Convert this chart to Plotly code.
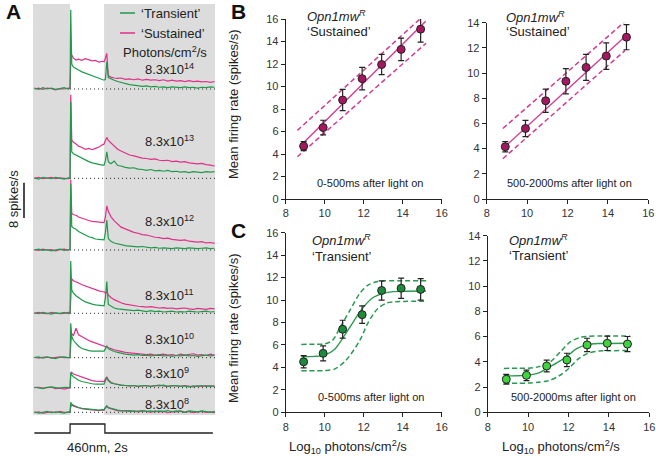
import plotly.graph_objects as go

W, H = 656, 456
def px(x): return x / W
def py(y): return 1 - y / H

FONT = "Arial, Liberation Sans, sans-serif"
GREEN = "#1f9a4b"
PINK = "#e0308a"

# ---------------- Panel A data (spikes/s above baseline) ----------------
T_PSTH = [-2.1, -1.85, -1.6, -1.35, -1.1, -0.85, -0.6, -0.35, -0.1,
          0.0, 0.04, 0.1, 0.2, 0.35, 0.5, 0.7, 0.9, 1.1, 1.3, 1.5, 1.7, 1.9,
          2.0, 2.08, 2.16, 2.25, 2.4, 2.6, 2.8, 3.0, 3.25, 3.5, 3.75, 4.0, 4.25, 4.5,
          4.75, 5.0, 5.25, 5.5, 5.75, 6.0, 6.25, 6.5, 6.75, 7.0, 7.25, 7.5, 7.75, 8.0, 8.25, 8.5]

TRANSIENT_E14 = [0.2, -0.1, 0.3, 0.0, 0.2, -0.1, 0.1, 0.3, 0.0,
                 0.2, 18.0, 5.6, 5.0, 4.6, 4.3, 3.9, 3.6, 3.3, 2.9, 2.7, 2.4, 2.1,
                 2.0, 2.2, 6.2, 2.6, 2.3, 2.0, 1.7, 1.5, 1.2, 1.0, 0.9, 0.8, 0.6, 0.7, 0.5,
                 0.6, 0.4, 0.5, 0.3, 0.5, 0.4, 0.3, 0.5, 0.3, 0.4, 0.2, 0.4, 0.3, 0.5, 0.4]
SUSTAINED_E14 = [0.0, 0.2, -0.1, 0.2, 0.1, -0.2, 0.1, 0.0, 0.2,
                 0.1, 6.0, 7.7, 7.0, 6.6, 6.8, 6.5, 6.9, 6.6, 6.4, 6.5, 6.1, 6.3,
                 6.2, 7.0, 8.1, 3.0, 2.7, 2.5, 2.4, 2.5, 2.2, 2.3, 2.1, 2.3, 2.0, 2.2, 2.0,
                 2.1, 1.9, 2.1, 1.8, 2.0, 1.8, 1.9, 1.7, 1.9, 1.7, 1.8, 1.6, 1.7, 1.5, 1.7]
TRANSIENT_E13 = [0.1, -0.2, 0.2, 0.0, -0.1, 0.2, 0.0, -0.2, 0.1,
                 0.0, 17.4, 6.0, 5.6, 5.3, 4.9, 4.5, 4.1, 3.8, 3.5, 3.3, 3.1, 3.0,
                 3.0, 4.0, 6.0, 3.8, 3.3, 3.9, 2.9, 2.8, 2.5, 2.3, 2.4, 2.1, 2.0, 1.8, 2.0,
                 1.7, 1.8, 1.6, 1.8, 1.5, 1.6, 1.4, 1.5, 1.3, 1.5, 1.4, 1.3, 1.5, 1.4, 1.5]
SUSTAINED_E13 = [0.0, 0.2, -0.1, 0.1, 0.2, -0.1, 0.1, 0.0, -0.1,
                 0.1, 19.0, 8.7, 8.2, 7.8, 7.3, 7.0, 6.6, 6.8, 6.5, 6.8, 7.1, 7.6,
                 7.8, 8.6, 9.3, 8.6, 8.0, 7.2, 6.6, 6.2, 5.8, 5.3, 5.1, 4.8, 4.6, 4.5, 4.3,
                 4.4, 4.1, 4.0, 4.1, 3.8, 3.9, 3.7, 3.8, 3.5, 3.4, 3.3, 3.4, 3.1, 3.0, 2.8]
TRANSIENT_E12 = [0.0, 0.2, -0.1, 0.1, -0.2, 0.0, 0.2, -0.1, 0.0,
                 0.1, 15.0, 5.3, 5.0, 4.7, 4.2, 3.8, 3.4, 3.0, 2.8, 2.5, 2.4, 2.3,
                 2.3, 4.0, 6.8, 2.6, 2.0, 1.6, 1.4, 1.2, 1.0, 0.9, 0.8, 0.7, 0.8, 0.6, 0.5,
                 0.6, 0.4, 0.5, 0.4, 0.3, 0.5, 0.4, 0.3, 0.5, 0.4, 0.3, 0.4, 0.5, 0.3, 0.4]
SUSTAINED_E12 = [0.1, -0.1, 0.2, 0.0, 0.1, -0.2, 0.1, 0.2, 0.0,
                 0.2, 16.0, 8.3, 8.0, 7.9, 7.5, 7.2, 6.9, 6.7, 6.5, 6.4, 6.3, 6.2,
                 6.2, 7.5, 10.0, 8.8, 7.6, 6.6, 5.8, 5.2, 4.8, 4.4, 4.0, 3.8, 3.5, 3.4, 3.1,
                 2.9, 2.8, 2.6, 2.7, 2.4, 2.3, 2.2, 2.3, 2.0, 1.9, 1.8, 1.9, 1.6, 1.7, 1.5]
TRANSIENT_E11 = [0.1, -0.1, 0.2, 0.0, -0.2, 0.1, 0.0, 0.2, -0.1,
                 0.0, 11.9, 5.3, 4.6, 4.0, 3.5, 3.0, 2.6, 2.3, 2.1, 1.9, 1.8, 1.7,
                 1.7, 3.5, 7.2, 2.0, 1.6, 1.2, 1.0, 0.9, 0.8, 0.7, 0.6, 0.7, 0.5, 0.4, 0.6,
                 0.4, 0.5, 0.3, 0.4, 0.5, 0.3, 0.4, 0.3, 0.5, 0.4, 0.3, 0.4, 0.5, 0.3, 0.4]
SUSTAINED_E11 = [0.0, 0.2, 0.0, -0.1, 0.2, 0.1, -0.1, 0.0, 0.2,
                 0.1, 4.0, 7.8, 7.4, 7.2, 6.9, 6.5, 6.2, 6.0, 5.7, 5.4, 5.1, 4.9,
                 4.9, 4.6, 4.8, 4.2, 3.6, 3.1, 2.7, 2.4, 2.1, 1.9, 1.7, 1.6, 1.5, 1.4, 1.5,
                 1.3, 1.2, 1.3, 1.1, 1.2, 1.0, 1.1, 1.2, 1.0, 0.9, 1.1, 1.0, 0.9, 1.1, 1.0]
TRANSIENT_E10 = [0.0, 0.2, -0.1, 0.1, 0.0, -0.2, 0.1, 0.2, 0.0,
                 0.1, 7.8, 4.8, 3.9, 3.2, 2.6, 2.1, 1.8, 1.6, 1.5, 1.5, 1.4, 1.5,
                 1.5, 2.0, 2.7, 2.0, 1.7, 1.4, 1.2, 1.0, 0.8, 0.7, 0.6, 0.7, 0.5, 0.6, 0.4,
                 0.5, 0.6, 0.4, 0.5, 0.3, 0.5, 0.4, 0.6, 0.4, 0.5, 0.3, 0.4, 0.6, 0.4, 0.5]
SUSTAINED_E10 = [0.1, -0.1, 0.1, 0.2, -0.1, 0.0, 0.2, 0.0, 0.1,
                 0.0, 3.0, 5.5, 5.0, 6.7, 5.2, 4.7, 4.3, 3.9, 3.6, 3.3, 3.0, 2.7,
                 2.6, 2.5, 2.4, 2.2, 2.0, 1.8, 1.6, 1.4, 1.2, 1.1, 1.0, 0.9, 0.8, 0.7, 0.8,
                 0.6, 0.7, 0.8, 0.6, 0.7, 0.5, 0.8, 0.6, 0.7, 0.9, 0.6, 0.7, 0.5, 0.8, 0.6]
TRANSIENT_E9 = [0.1, 0.0, -0.2, 0.1, 0.2, 0.0, -0.1, 0.1, 0.0,
                0.0, 3.5, 2.9, 2.5, 2.0, 1.7, 1.4, 1.2, 1.0, 0.9, 0.8, 0.8, 0.8,
                0.8, 1.5, 2.3, 1.6, 1.1, 0.9, 0.7, 0.6, 0.5, 0.4, 0.5, 0.3, 0.5, 0.4, 0.3,
                0.5, 0.4, 0.6, 0.3, 0.4, 0.5, 0.3, 0.4, 0.2, 0.4, 0.3, 0.5, 0.3, 0.4, 0.3]
SUSTAINED_E9 = [0.0, 0.1, -0.1, 0.0, 0.1, -0.2, -0.1, -0.3, -0.2,
                0.0, 3.0, 3.5, 3.1, 2.9, 2.6, 2.3, 2.0, 1.8, 1.6, 1.5, 1.5, 1.4,
                1.4, 2.0, 2.5, 1.8, 1.2, 0.9, 0.7, 0.6, 0.5, 0.4, 0.5, 0.3, 0.4, 0.5, 0.3,
                0.4, 0.6, 0.4, 0.3, 0.5, 0.4, 0.3, 0.5, 0.4, 0.2, 0.4, 0.3, 0.5, 0.3, 0.4]
TRANSIENT_E8 = [0.1, -0.2, 0.0, 0.2, -0.1, 0.1, 0.0, -0.2, 0.1,
                0.0, 2.3, 1.9, 1.6, 1.3, 1.1, 0.9, 0.8, 0.7, 0.6, 0.6, 0.5, 0.6,
                0.6, 1.1, 1.5, 1.1, 0.9, 0.7, 0.5, 0.4, 0.3, 0.4, 0.2, 0.3, 0.4, 0.2, 0.3,
                0.1, 0.3, 0.2, 0.4, 0.1, 0.3, 0.2, 0.0, 0.3, 0.2, 0.1, 0.3, 0.2, 0.0, 0.2]
SUSTAINED_E8 = [-0.1, 0.1, -0.2, 0.0, 0.1, -0.1, 0.2, 0.0, -0.1,
                0.0, 1.2, 1.7, 1.4, 1.2, 1.0, 0.8, 0.7, 0.6, 0.5, 0.5, 0.4, 0.5,
                0.5, 1.0, 1.3, 1.0, 0.8, 0.6, 0.4, 0.3, 0.4, 0.2, 0.3, 0.1, 0.3, 0.2, 0.0,
                0.3, 0.1, 0.2, -0.1, 0.2, 0.1, 0.3, 0.0, 0.2, -0.1, 0.1, 0.2, 0.0, 0.1, -0.1]

INTENSITY_EXP = ["14", "13", "12", "11", "10", "9", "8"]
STIM_T = [-2.1, 0.0, 0.0, 2.05, 2.05, 8.4]
STIM_LEVEL = [0, 0, 1, 1, 0, 0]

# ---------------- Panels B / C data ----------------
LOG_INTENSITY = [8.92, 9.92, 10.92, 11.92, 12.92, 13.92, 14.92]
SUST_EARLY_MEAN = [4.7, 6.35, 8.8, 10.7, 11.95, 13.3, 15.1]
SUST_EARLY_SEM = [0.4, 0.65, 0.95, 1.0, 0.9, 1.0, 1.15]
SUST_LATE_MEAN = [4.15, 5.6, 7.8, 9.35, 10.45, 11.35, 12.85]
SUST_LATE_SEM = [0.4, 0.65, 0.92, 1.0, 1.03, 1.05, 1.0]
TRANS_EARLY_MEAN = [4.5, 5.25, 7.4, 8.7, 10.85, 11.05, 10.95]
TRANS_EARLY_SEM = [0.55, 0.67, 0.8, 0.78, 0.86, 0.9, 0.96]
TRANS_LATE_MEAN = [2.62, 2.93, 3.67, 4.15, 5.34, 5.47, 5.41]
TRANS_LATE_SEM = [0.38, 0.42, 0.46, 0.53, 0.53, 0.57, 0.6]

# fitted lines
FIT_SE_X = [8.8, 15.18]; FIT_SE_Y = [4.8, 15.8]
FIT_SE_BAND_X = [8.6, 15.2]; FIT_SE_UP = [6.1, 16.5]; FIT_SE_LO = [3.75, 13.85]
FIT_SL_X = [8.8, 14.85]; FIT_SL_Y = [4.0, 12.9]
FIT_SL_BAND_X = [8.8, 14.85]; FIT_SL_UP = [5.6, 14.1]; FIT_SL_LO = [3.2, 11.8]

FIT_TE_X = [8.8, 9.5, 10.0, 10.5, 11.0, 11.5, 12.0, 12.5, 13.0, 13.5, 14.0, 15.2]
FIT_TE_Y = [4.95, 4.98, 5.1, 5.6, 6.8, 8.15, 9.4, 10.25, 10.6, 10.75, 10.78, 10.8]
FIT_TE_UP_X = [8.8, 9.5, 10.0, 10.4, 10.8, 11.3, 11.8, 12.2, 12.6, 13.0, 14.0, 15.2]
FIT_TE_UP = [6.05, 6.06, 6.1, 6.4, 7.6, 9.1, 10.6, 11.3, 11.6, 11.7, 11.72, 11.72]
FIT_TE_LO_X = [8.8, 9.5, 10.0, 10.5, 11.1, 11.8, 12.2, 12.7, 13.2, 13.6, 14.0, 15.2]
FIT_TE_LO = [3.7, 3.7, 3.72, 3.85, 4.65, 6.4, 7.9, 9.2, 9.75, 9.85, 9.88, 9.9]

FIT_TL_X = [8.8, 9.5, 10.0, 10.5, 10.9, 11.4, 11.9, 12.4, 12.9, 13.5, 14.0, 15.05]
FIT_TL_Y = [2.88, 2.9, 2.95, 3.1, 3.45, 3.9, 4.4, 5.05, 5.35, 5.45, 5.46, 5.47]
FIT_TL_UP_X = [8.8, 9.5, 10.0, 10.5, 11.1, 11.6, 12.1, 12.6, 13.0, 13.5, 14.0, 15.05]
FIT_TL_UP = [3.48, 3.49, 3.5, 3.6, 4.0, 4.8, 5.6, 5.95, 6.03, 6.05, 6.05, 6.05]
FIT_TL_LO_X = [8.8, 9.5, 10.0, 10.5, 11.0, 11.5, 12.0, 12.5, 13.0, 13.5, 14.0, 15.05]
FIT_TL_LO = [2.3, 2.3, 2.32, 2.38, 2.5, 2.85, 3.45, 4.25, 4.7, 4.85, 4.88, 4.9]

# ---------------- layout geometry ----------------
A_PX_PER_UNIT = 4.4
A_TOP, A_BOT = 4, 440
A_X0, A_X1 = 33, 215
A_T0 = -2.18
A_T1 = A_T0 + (A_X1 - A_X0) / 17.0
def ay(ypix): return (A_BOT - ypix) / A_PX_PER_UNIT

ROW_BASE_PX = [89, 178.3, 250, 313.3, 357.7, 387.7, 412.3]
ROW_LABEL_PX = [69, 141, 221, 295, 339, 373, 404]

fig = go.Figure()
shapes = []
annotations = []

def ann(text, x, y, size=13, xanchor="center", angle=0, color="#222"):
    annotations.append(dict(text=text, x=px(x), y=py(y), xref="paper", yref="paper",
                            xanchor=xanchor, yanchor="middle", textangle=angle,
                            showarrow=False, font=dict(size=size, color=color, family=FONT)))

# Panel A traces
rows = [(TRANSIENT_E14, SUSTAINED_E14), (TRANSIENT_E13, SUSTAINED_E13),
        (TRANSIENT_E12, SUSTAINED_E12), (TRANSIENT_E11, SUSTAINED_E11),
        (TRANSIENT_E10, SUSTAINED_E10), (TRANSIENT_E9, SUSTAINED_E9),
        (TRANSIENT_E8, SUSTAINED_E8)]
for (tr, su), base_px in zip(rows, ROW_BASE_PX):
    off = ay(base_px)
    fig.add_trace(go.Scatter(x=T_PSTH, y=[v + off for v in su], mode="lines",
                             line=dict(color=PINK, width=1.2), xaxis="x5", yaxis="y5",
                             showlegend=False, hoverinfo="skip"))
    fig.add_trace(go.Scatter(x=T_PSTH, y=[v + off for v in tr], mode="lines",
                             line=dict(color=GREEN, width=1.2), xaxis="x5", yaxis="y5",
                             showlegend=False, hoverinfo="skip"))
    shapes.append(dict(type="line", xref="x5", yref="y5", x0=0, x1=A_T1, y0=off, y1=off,
                       line=dict(color="#222", width=1, dash="1px,3px"), layer="below"))

stim_base = ay(433); stim_top = ay(424)
fig.add_trace(go.Scatter(x=STIM_T, y=[stim_base + l * (stim_top - stim_base) for l in STIM_LEVEL],
                         mode="lines", line=dict(color="#222", width=1.3),
                         xaxis="x5", yaxis="y5", showlegend=False, hoverinfo="skip"))

for (t0, t1) in [(A_T0, 0.0), (2.0, A_T1)]:
    shapes.insert(0, dict(type="rect", xref="x5", yref="y5", x0=t0, x1=t1,
                          y0=ay(415), y1=ay(A_TOP), fillcolor="#dcdcdc",
                          line=dict(width=0), layer="below"))

# scale bar
shapes.append(dict(type="line", xref="paper", yref="y5", x0=px(24), x1=px(24),
                   y0=ay(218), y1=ay(218) + 8, line=dict(color="#111", width=1.5)))
ann("8 spikes/s", 13, 199, angle=-90)
ann("460nm, 2s", 97, 447)

# legend of A
for yy, col, txt in [(13, GREEN, "‘Transient’"), (33, PINK, "‘Sustained’")]:
    shapes.append(dict(type="line", xref="paper", yref="paper", x0=px(120), x1=px(135),
                       y0=py(yy), y1=py(yy), line=dict(color=col, width=1.5)))
    ann(txt, 139, yy, xanchor="left")
ann("Photons/cm<sup>2</sup>/s", 165, 52)
for e, ly in zip(INTENSITY_EXP, ROW_LABEL_PX):
    ann("8.3x10<sup>%s</sup>" % e, 143, ly, xanchor="left")

# ---------------- Panels B, C ----------------
panels = [
    ("x", "y", SUST_EARLY_MEAN, SUST_EARLY_SEM, "#a3185f", "#d33c92"),
    ("x2", "y2", SUST_LATE_MEAN, SUST_LATE_SEM, "#a3185f", "#d33c92"),
    ("x3", "y3", TRANS_EARLY_MEAN, TRANS_EARLY_SEM, "#1d8a3c", "#2a9a50"),
    ("x4", "y4", TRANS_LATE_MEAN, TRANS_LATE_SEM, "#3fd33f", "#2a9a50"),
]
fits = [
    [(FIT_SE_X, FIT_SE_Y, "solid"), (FIT_SE_BAND_X, FIT_SE_UP, "dash"), (FIT_SE_BAND_X, FIT_SE_LO, "dash")],
    [(FIT_SL_X, FIT_SL_Y, "solid"), (FIT_SL_BAND_X, FIT_SL_UP, "dash"), (FIT_SL_BAND_X, FIT_SL_LO, "dash")],
    [(FIT_TE_X, FIT_TE_Y, "solid"), (FIT_TE_UP_X, FIT_TE_UP, "dash"), (FIT_TE_LO_X, FIT_TE_LO, "dash")],
    [(FIT_TL_X, FIT_TL_Y, "solid"), (FIT_TL_UP_X, FIT_TL_UP, "dash"), (FIT_TL_LO_X, FIT_TL_LO, "dash")],
]
for (xa, ya, mean, sem, mcol, lcol), fl in zip(panels, fits):
    for fx, fy, d in fl:
        fig.add_trace(go.Scatter(x=fx, y=fy, mode="lines", xaxis=xa, yaxis=ya,
                                 line=dict(color=lcol, width=1.4 if d == "solid" else 1.5,
                                           dash="solid" if d == "solid" else "5px,3px",
                                           shape="spline", smoothing=0.8),
                                 showlegend=False, hoverinfo="skip"))
    fig.add_trace(go.Scatter(x=LOG_INTENSITY, y=mean, mode="markers", xaxis=xa, yaxis=ya,
                             marker=dict(size=8, color=mcol, line=dict(color="#222", width=1)),
                             error_y=dict(type="data", array=sem, visible=True, color="#222",
                                          thickness=1.2, width=3),
                             showlegend=False, hoverinfo="skip"))

def ax_common():
    return dict(showline=True, linecolor="#222", linewidth=1, ticks="outside", ticklen=4,
                tickwidth=1, tickcolor="#222", showgrid=False, zeroline=False, automargin=False,
                tickfont=dict(size=11, color="#333", family=FONT))

lay = dict(
    width=W, height=H, margin=dict(l=0, r=0, t=0, b=0, pad=0, autoexpand=False),
    paper_bgcolor="white", plot_bgcolor="rgba(0,0,0,0)",
    font=dict(family=FONT, color="#222"), showlegend=False,
)
lay["xaxis"] = dict(ax_common(), domain=[px(285.7), px(441.7)], range=[8, 16], dtick=2, anchor="y")
lay["yaxis"] = dict(ax_common(), domain=[py(199), py(19)], range=[0, 16], dtick=2, anchor="x")
lay["xaxis2"] = dict(ax_common(), domain=[px(486.7), px(648.3)], range=[8, 16], dtick=2, anchor="y2")
lay["yaxis2"] = dict(ax_common(), domain=[py(199), py(22.7)], range=[0, 14], dtick=2, anchor="x2")
lay["xaxis3"] = dict(ax_common(), domain=[px(285.7), px(441.7)], range=[8, 16], dtick=2, anchor="y3")
lay["yaxis3"] = dict(ax_common(), domain=[py(412.3), py(232.7)], range=[0, 16], dtick=2, anchor="x3")
lay["xaxis4"] = dict(ax_common(), domain=[px(487.7), px(649.3)], range=[8, 16], dtick=2, anchor="y4")
lay["yaxis4"] = dict(ax_common(), domain=[py(412.3), py(235.7)], range=[0, 14], dtick=2, anchor="x4")
lay["xaxis5"] = dict(domain=[px(A_X0), px(A_X1)], range=[A_T0, A_T1], visible=False, anchor="y5")
lay["yaxis5"] = dict(domain=[py(A_BOT), py(A_TOP)], range=[0, ay(A_TOP)], visible=False, anchor="x5")

for L, xx, yy in [("A", 13, 12), ("B", 238, 12), ("C", 238, 231)]:
    ann("<b>%s</b>" % L, xx, yy, size=21, color="#111")

for xx, y1, y2, word in [(305, 16, 31, "‘Sustained’"), (504, 17, 31, "‘Sustained’"),
                          (310, 240, 256, "‘Transient’"), (507, 240, 255, "‘Transient’")]:
    ann("<i>Opn1mw<sup>R</sup></i>", xx, y1, xanchor="left")
    ann(word, xx, y2, xanchor="left")
for xx, yy, txt in [(370, 183, "0-500ms after light on"), (569, 183, "500-2000ms after light on"),
                    (371, 397, "0-500ms after light on"), (573, 397, "500-2000ms after light on")]:
    ann(txt, xx, yy, size=11)
for yy in [104, 328]:
    ann("Mean firing rate (spikes/s)", 233, yy, angle=-90)
for xx in [348, 561]:
    ann("Log<sub>10</sub> photons/cm<sup>2</sup>/s", xx, 447)

lay["shapes"] = shapes
lay["annotations"] = annotations
fig.update_layout(**lay)
fig.write_html("out.html", config={"displayModeBar": False},
               post_script="document.body.style.margin='0px';")
